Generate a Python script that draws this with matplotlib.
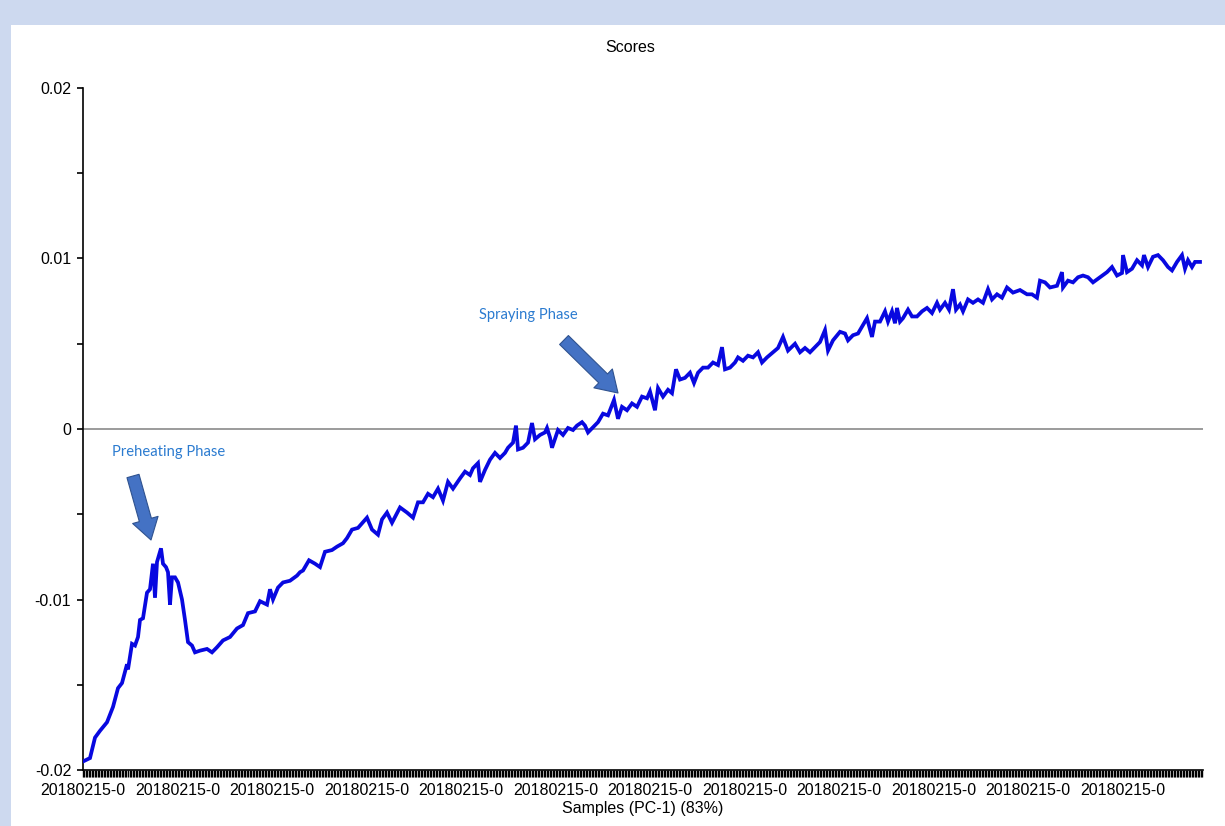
import numpy as np
import matplotlib
matplotlib.use("Agg")
import matplotlib.pyplot as plt
from matplotlib.patches import Rectangle
from matplotlib.ticker import FixedLocator, MultipleLocator

# ---- data ----
sample_no = [0, 7, 12, 17, 24, 30, 35, 39, 44, 45, 49, 52, 55, 57, 60, 64, 67, 70, 72, 74,
             78, 80, 83, 85, 87, 89, 92, 95, 99, 102, 105, 109, 112, 117, 124, 129, 134, 140,
             147, 154, 160, 165, 172, 177, 184, 187, 190, 195, 200, 207, 214, 217, 220, 226,
             232, 237, 242, 249, 254, 260, 264, 269, 275, 284, 289, 295, 299, 304, 309, 317,
             324, 330, 335, 340, 345, 350, 355, 360, 365, 370, 377, 382, 387, 390, 395, 397,
             402, 407, 412, 417, 422, 425, 430, 433, 435, 440, 445, 449, 452, 457, 462, 464,
             467, 469, 475, 480, 485, 490, 494, 499, 502, 505, 510, 515, 520, 525, 531, 535,
             539, 544, 549, 554, 559, 564, 567, 572, 575, 580, 585, 589, 593, 597, 602, 607,
             611, 615, 620, 625, 630, 635, 639, 642, 647, 652, 655, 660, 665, 670, 675, 679,
             684, 690, 695, 700, 705, 712, 717, 722, 727, 732, 737, 742, 745, 750, 757, 762,
             765, 770, 775, 779, 784, 789, 792, 797, 802, 805, 809, 812, 814, 817, 820, 825,
             829, 834, 839, 844, 849, 854, 857, 862, 866, 870, 873, 877, 880, 885, 890, 895,
             900, 905, 909, 914, 919, 924, 930, 937, 944, 949, 954, 957, 962, 967, 974, 979,
             980, 985, 990, 995, 1000, 1005, 1010, 1017, 1024, 1029, 1034, 1039, 1040, 1044,
             1049, 1054, 1059, 1061, 1065, 1070, 1075, 1080, 1085, 1089, 1094, 1099, 1102,
             1105, 1109, 1112, 1117]

# PC-1 scores in units of 1e-3
pc1_scores_e3 = [-19.5, -19.3, -18.1, -17.7, -17.2, -16.3, -15.2, -14.9, -13.8, -14.1, -12.6,
                 -12.7, -12.2, -11.2, -11.1, -9.6, -9.4, -7.9, -9.9, -7.8, -7.0, -7.9, -8.1,
                 -8.4, -10.3, -8.7, -8.7, -9.0, -10.0, -11.2, -12.5, -12.7, -13.1, -13.0,
                 -12.9, -13.1, -12.8, -12.4, -12.2, -11.7, -11.5, -10.8, -10.7, -10.1, -10.3,
                 -9.4, -10.0, -9.3, -9.0, -8.9, -8.6, -8.4, -8.3, -7.7, -7.9, -8.1, -7.2,
                 -7.1, -6.9, -6.7, -6.4, -5.9, -5.8, -5.2, -5.9, -6.2, -5.3, -4.9, -5.5,
                 -4.6, -4.9, -5.2, -4.3, -4.3, -3.8, -4.0, -3.5, -4.2, -3.1, -3.5, -2.9,
                 -2.5, -2.7, -2.3, -2.0, -3.1, -2.4, -1.8, -1.4, -1.7, -1.4, -1.1, -0.8,
                 0.2, -1.2, -1.1, -0.8, 0.35, -0.6, -0.35, -0.2, 0.06, -0.5, -1.1, -0.06,
                 -0.35, 0.06, -0.06, 0.2, 0.4, 0.2, -0.2, 0.1, 0.4, 0.9, 0.8, 1.7, 0.6, 1.3,
                 1.1, 1.5, 1.3, 1.9, 1.8, 2.2, 1.1, 2.4, 1.9, 2.3, 2.1, 3.5, 2.9, 3.0, 3.3,
                 2.7, 3.3, 3.6, 3.6, 3.9, 3.75, 4.8, 3.5, 3.6, 3.9, 4.2, 4.0, 4.3, 4.2, 4.5,
                 3.9, 4.2, 4.5, 4.75, 5.4, 4.6, 5.0, 4.5, 4.75, 4.5, 4.8, 5.1, 5.8, 4.6, 5.2,
                 5.7, 5.6, 5.2, 5.5, 5.6, 6.0, 6.5, 5.4, 6.3, 6.3, 6.9, 6.3, 6.9, 6.2, 7.1,
                 6.3, 6.5, 7.0, 6.6, 6.6, 6.9, 7.1, 6.8, 7.4, 7.0, 7.4, 7.0, 8.2, 7.0, 7.3,
                 6.9, 7.6, 7.4, 7.6, 7.4, 8.2, 7.6, 7.9, 7.7, 8.3, 8.0, 8.15, 7.9, 7.9, 7.7,
                 8.7, 8.6, 8.3, 8.4, 9.2, 8.3, 8.7, 8.6, 8.9, 9.0, 8.9, 8.6, 8.9, 9.2, 9.5,
                 9.0, 9.15, 10.2, 9.2, 9.4, 9.9, 9.6, 10.2, 9.5, 10.1, 10.2, 9.9, 9.5, 9.3,
                 9.8, 10.2, 9.4, 9.9, 9.5, 9.8, 9.8]

n_samples = 1120
x_tick_label = "20180215-0"
n_x_labels = 12
y_ticks = [-0.02, -0.01, 0.0, 0.01, 0.02]
y_tick_labels = ["-0.02", "-0.01", "0", "0.01", "0.02"]
title = "Scores"
x_label = "Samples (PC-1) (83%)"
annotations = ["Preheating Phase", "Spraying Phase"]

# ---- figure ----
W, H = 1225, 826
fig = plt.figure(figsize=(W / 100, H / 100), dpi=100)
fig.patch.set_facecolor("#cdd9ef")
fig.patches.append(Rectangle((11 / W, 0), 1 - 11 / W, 1 - 25 / H, transform=fig.transFigure,
                             facecolor="white", edgecolor="none", zorder=-10))

font = "Liberation Sans"
ax = fig.add_axes([83 / W, 1 - 770 / H, (1203 - 83) / W, (770 - 88) / H])
ax.set_facecolor("none")
ax.set_zorder(1)

scores = np.array(pc1_scores_e3) * 1e-3
ax.axhline(0, color="#8a8a8a", lw=1.2, zorder=1)
ax.plot(sample_no, scores, color="#0808e0", lw=2.7, zorder=3, solid_joinstyle="miter")

ax.set_xlim(0, n_samples)
ax.set_ylim(-0.02, 0.02)

for s in ["top", "right"]:
    ax.spines[s].set_visible(False)
for s in ["left", "bottom"]:
    ax.spines[s].set_color("black")
    ax.spines[s].set_linewidth(1.2)

ax.set_yticks(y_ticks)
ax.set_yticklabels(y_tick_labels, fontfamily=font, fontsize=11.5)
ax.yaxis.set_minor_locator(MultipleLocator(0.005))
ax.tick_params(axis="y", which="both", direction="out", length=4.5, width=1.2, pad=4)

label_pos = [k * 94.5 for k in range(n_x_labels)]
ax.set_xticks(label_pos)
ax.set_xticklabels([x_tick_label] * n_x_labels, fontfamily=font, fontsize=11.5)
ax.xaxis.set_minor_locator(FixedLocator(np.arange(0, n_samples + 1, 1.5)))
ax.tick_params(axis="x", which="both", direction="out", length=5, width=1.0, pad=4.5)

ax.set_xlabel(x_label, fontfamily=font, fontsize=11.5, labelpad=2)
fig.text(630 / W, 1 - 48 / H, title, ha="center", va="center", fontfamily=font, fontsize=11.5)

# annotations (text + block arrows), placed in figure pixels
txt_color = "#2b7bd0"
fig.text(112 / W, 1 - 452 / H, annotations[0], ha="left", va="center", fontfamily="Lato",
         fontsize=10.6, color=txt_color)
fig.text(479 / W, 1 - 315 / H, annotations[1], ha="left", va="center", fontfamily="Lato",
         fontsize=10.6, color=txt_color)

arrow_style = "simple,head_width=0.95,head_length=0.75,tail_width=0.45"
for tail, tip in [((133, 476), (151, 540)), ((564, 340), (618, 393))]:
    ax.annotate("", xy=(tip[0], H - tip[1]), xytext=(tail[0], H - tail[1]),
                xycoords="figure pixels", textcoords="figure pixels",
                annotation_clip=False,
                arrowprops=dict(arrowstyle=arrow_style, mutation_scale=20,
                                fc="#4472c4", ec="#2f528f", lw=0.8,
                                shrinkA=0, shrinkB=0), zorder=5)

fig.savefig("out.png", dpi=100)
